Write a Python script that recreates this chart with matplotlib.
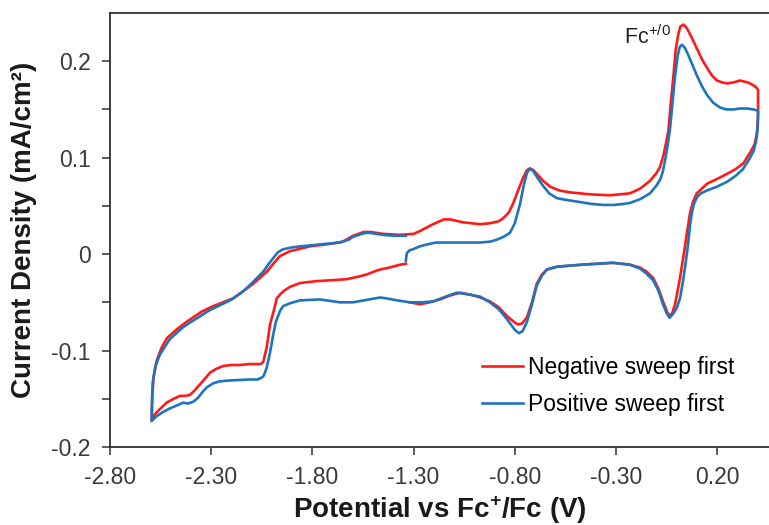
import numpy as np
import matplotlib
matplotlib.use("Agg")
import matplotlib.pyplot as plt

plt.rcParams['font.family'] = ['Liberation Sans', 'DejaVu Sans']
plt.rcParams['mathtext.fontset'] = 'custom'
plt.rcParams['mathtext.rm'] = 'Liberation Sans'
plt.rcParams['mathtext.bf'] = 'Liberation Sans:bold'
plt.rcParams['axes.unicode_minus'] = False

# CV scan started at -1.34 V, first sweep towards negative potentials
neg_v = [-1.338, -1.367, -1.420, -1.466, -1.481, -1.530, -1.565, -1.630, -1.698, -1.780,
         -1.861, -1.911, -1.940, -1.960, -1.976, -1.990, -2.009, -2.026, -2.043, -2.055,
         -2.075, -2.110, -2.158, -2.200, -2.240, -2.275, -2.306, -2.330, -2.355, -2.380,
         -2.405, -2.430, -2.454, -2.485, -2.520, -2.550, -2.578, -2.594,
         -2.591, -2.585, -2.570, -2.545, -2.518, -2.470, -2.420, -2.350, -2.291, -2.192,
         -2.093, -2.024, -1.985, -1.960, -1.911, -1.812, -1.698, -1.649, -1.599, -1.545,
         -1.515, -1.451, -1.367, -1.300, -1.268, -1.204, -1.150, -1.120, -1.056, -0.972,
         -0.923, -0.880, -0.858, -0.830, -0.809, -0.780, -0.759, -0.740, -0.725, -0.708,
         -0.690, -0.660, -0.626, -0.580, -0.527, -0.428, -0.330, -0.231, -0.180, -0.132,
         -0.100, -0.083, -0.065, -0.053, -0.041, -0.030, -0.017, -0.005, 0.008, 0.018,
         0.033, 0.044, 0.056, 0.078, 0.100, 0.125, 0.150, 0.175, 0.199, 0.225,
         0.249, 0.280, 0.313, 0.352, 0.380, 0.397, 0.402,
         0.402, 0.399, 0.395, 0.385, 0.362, 0.329, 0.290, 0.247, 0.200, 0.150,
         0.115, 0.099, 0.082, 0.066, 0.049, 0.041, 0.024, 0.016, -0.008, -0.022,
         -0.033, -0.045, -0.066, -0.090, -0.116, -0.150, -0.181, -0.231, -0.315, -0.394,
         -0.470, -0.527, -0.590, -0.641, -0.665, -0.692, -0.715, -0.741, -0.765, -0.783,
         -0.800, -0.840, -0.880, -0.923, -0.970, -1.021, -1.071, -1.120, -1.170, -1.220,
         -1.268, -1.318]
neg_j = [-0.010, -0.011, -0.014, -0.016, -0.017, -0.021, -0.023, -0.026, -0.027, -0.028,
         -0.030, -0.034, -0.038, -0.042, -0.046, -0.058, -0.073, -0.097, -0.112, -0.114,
         -0.114, -0.114, -0.115, -0.115, -0.116, -0.119, -0.123, -0.129, -0.135, -0.141,
         -0.146, -0.147, -0.147, -0.150, -0.154, -0.160, -0.166, -0.173,
         -0.147, -0.128, -0.111, -0.097, -0.087, -0.078, -0.070, -0.060, -0.054, -0.046,
         -0.031, -0.018, -0.008, -0.002, 0.003, 0.008, 0.011, 0.013, 0.019, 0.023,
         0.023, 0.021, 0.020, 0.021, 0.024, 0.031, 0.036, 0.036, 0.033, 0.031,
         0.032, 0.034, 0.037, 0.043, 0.052, 0.068, 0.079, 0.087, 0.089, 0.087,
         0.083, 0.076, 0.070, 0.066, 0.064, 0.062, 0.061, 0.063, 0.068, 0.076,
         0.084, 0.090, 0.103, 0.115, 0.128, 0.155, 0.183, 0.212, 0.228, 0.236,
         0.238, 0.236, 0.232, 0.223, 0.213, 0.202, 0.193, 0.185, 0.180, 0.178,
         0.177, 0.178, 0.180, 0.178, 0.175, 0.172, 0.170,
         0.148, 0.132, 0.124, 0.114, 0.105, 0.094, 0.088, 0.083, 0.078, 0.073,
         0.066, 0.063, 0.055, 0.043, 0.020, 0.008, -0.014, -0.025, -0.052, -0.061,
         -0.064, -0.061, -0.050, -0.036, -0.025, -0.018, -0.014, -0.011, -0.009, -0.010,
         -0.011, -0.012, -0.013, -0.016, -0.021, -0.031, -0.050, -0.066, -0.072, -0.073,
         -0.071, -0.064, -0.055, -0.049, -0.045, -0.042, -0.040, -0.043, -0.047, -0.050,
         -0.052, -0.050]

# same start potential, first sweep towards positive potentials
pos_v = [-1.338, -1.335, -1.333, -1.320, -1.303, -1.270, -1.234, -1.190, -1.155, -1.060,
         -0.972, -0.920, -0.888, -0.855, -0.824, -0.800, -0.774, -0.755, -0.740, -0.728,
         -0.712, -0.690, -0.661, -0.630, -0.592, -0.540, -0.478, -0.420, -0.364, -0.310,
         -0.265, -0.231, -0.180, -0.132, -0.100, -0.080, -0.068, -0.055, -0.043, -0.033,
         -0.020, -0.008, 0.005, 0.015, 0.026, 0.040, 0.056, 0.078, 0.100, 0.125,
         0.150, 0.180, 0.214, 0.245, 0.278, 0.315, 0.347, 0.380, 0.397, 0.402,
         0.402, 0.399, 0.392, 0.380, 0.360, 0.327, 0.290, 0.249, 0.200, 0.150,
         0.120, 0.100, 0.085, 0.075, 0.066, 0.055, 0.041, 0.028, 0.016, 0.000,
         -0.018, -0.035, -0.048, -0.068, -0.090, -0.117, -0.150, -0.181, -0.231, -0.315,
         -0.394, -0.470, -0.527, -0.590, -0.641, -0.665, -0.692, -0.715, -0.741, -0.762,
         -0.779, -0.798, -0.840, -0.880, -0.923, -0.972, -1.021, -1.087, -1.140, -1.203,
         -1.260, -1.318, -1.380, -1.430, -1.466, -1.520, -1.600, -1.664, -1.762, -1.861,
         -1.911, -1.945, -1.960, -1.980, -1.993, -2.010, -2.026, -2.040, -2.050, -2.070,
         -2.108, -2.207, -2.260, -2.290, -2.320, -2.339, -2.365, -2.388, -2.415, -2.438,
         -2.470, -2.504, -2.540, -2.569, -2.594,
         -2.592, -2.588, -2.575, -2.553, -2.504, -2.440, -2.405, -2.306, -2.207, -2.150,
         -2.108, -2.075, -2.042, -2.015, -1.993, -1.970, -1.945, -1.900, -1.861, -1.762,
         -1.664, -1.620, -1.599, -1.540, -1.515, -1.451, -1.400, -1.338]
pos_j = [-0.007, -0.001, 0.001, 0.004, 0.005, 0.008, 0.010, 0.012, 0.012, 0.012,
         0.012, 0.013, 0.015, 0.018, 0.022, 0.032, 0.052, 0.072, 0.084, 0.088,
         0.087, 0.080, 0.071, 0.063, 0.058, 0.056, 0.054, 0.052, 0.051, 0.051,
         0.052, 0.053, 0.057, 0.063, 0.071, 0.078, 0.086, 0.100, 0.115, 0.130,
         0.158, 0.185, 0.206, 0.215, 0.217, 0.214, 0.207, 0.196, 0.185, 0.174,
         0.165, 0.157, 0.152, 0.150, 0.150, 0.151, 0.151, 0.150, 0.149, 0.148,
         0.140, 0.128, 0.117, 0.107, 0.099, 0.088, 0.081, 0.075, 0.070, 0.066,
         0.063, 0.059, 0.052, 0.043, 0.030, 0.008, -0.014, -0.032, -0.046, -0.056,
         -0.062, -0.066, -0.062, -0.052, -0.038, -0.027, -0.020, -0.015, -0.011, -0.009,
         -0.010, -0.011, -0.012, -0.013, -0.016, -0.022, -0.033, -0.052, -0.071, -0.080,
         -0.082, -0.079, -0.067, -0.057, -0.050, -0.044, -0.042, -0.040, -0.044, -0.049,
         -0.050, -0.050, -0.048, -0.046, -0.045, -0.047, -0.050, -0.050, -0.047, -0.048,
         -0.051, -0.054, -0.059, -0.070, -0.083, -0.103, -0.118, -0.126, -0.128, -0.130,
         -0.130, -0.131, -0.132, -0.134, -0.138, -0.142, -0.149, -0.153, -0.155, -0.154,
         -0.157, -0.160, -0.164, -0.168, -0.173,
         -0.150, -0.132, -0.116, -0.104, -0.088, -0.076, -0.071, -0.058, -0.048, -0.040,
         -0.032, -0.025, -0.018, -0.010, -0.004, 0.002, 0.005, 0.007, 0.008, 0.010,
         0.012, 0.015, 0.018, 0.022, 0.022, 0.020, 0.019, 0.019]

series_labels = ['Negative sweep first', 'Positive sweep first']
x_ticks = [-2.80, -2.30, -1.80, -1.30, -0.80, -0.30, 0.20]
y_ticks = [-0.2, -0.1, 0.0, 0.1, 0.2]
y_minor = [-0.15, -0.05, 0.05, 0.15]

fig = plt.figure(figsize=(7.69, 5.25), dpi=100)
ax = fig.add_axes([0.143, 0.1486, 0.857, 0.8266])

ax.plot(neg_v, neg_j, color='#FF1A1A', lw=1.9, label=series_labels[0], solid_joinstyle='round')
ax.plot(pos_v, pos_j, color='#1F74BE', lw=1.9, label=series_labels[1], solid_joinstyle='round')

ax.set_xlim(-2.80, 0.456)
ax.set_ylim(-0.2, 0.25)

ax.set_xticks(x_ticks)
ax.set_xticklabels(['%.2f' % t for t in x_ticks])
ax.set_yticks(y_ticks)
ax.set_yticklabels(['-0.2', '-0.1', '0', '0.1', '0.2'])
ax.set_yticks(y_minor, minor=True)

ax.tick_params(axis='both', which='both', direction='out', length=6, width=1.1,
               color='#303030', labelsize=16.5, labelcolor='#3a3a3a')
ax.tick_params(axis='x', pad=8)
ax.tick_params(axis='y', pad=8)

for side in ['top', 'bottom', 'left']:
    ax.spines[side].set_color('#303030')
    ax.spines[side].set_linewidth(1.3)
ax.spines['right'].set_visible(False)

ax.set_xlabel('Potential vs Fc$^{\\mathbf{+}}$/Fc (V)', fontsize=20, fontweight='bold', color='#1a1a1a')
ax.set_ylabel('Current Density (mA/cm²)', fontsize=20, fontweight='bold', color='#1a1a1a')
ax.xaxis.set_label_coords(0.5, -0.107)
ax.yaxis.set_label_coords(-0.11, 0.5)

ax.text(-0.030, 0.218, 'Fc$^{+/0}$', fontsize=15.5, color='#222222', ha='right', va='baseline')

ax.legend(loc='upper left', bbox_to_anchor=(0.5645, 0.210), frameon=False,
          fontsize=16.5, handlelength=1.8, handletextpad=0.2, labelspacing=0.6,
          borderpad=0, borderaxespad=0)

fig.savefig('out.png', dpi=100)
